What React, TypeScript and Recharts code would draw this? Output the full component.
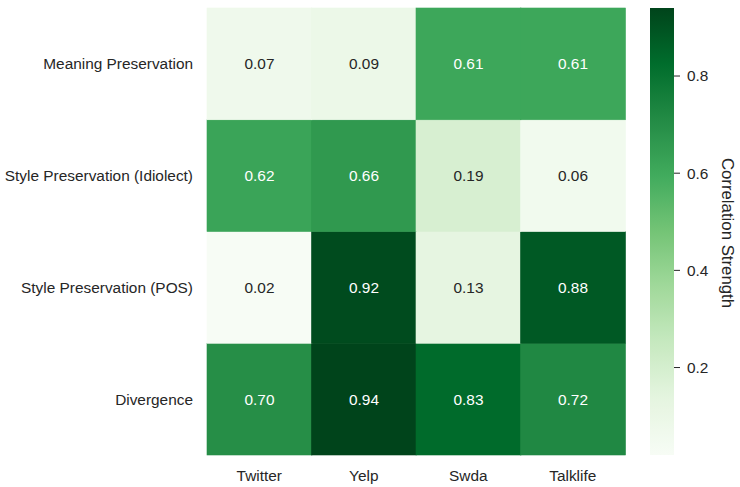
import { Bar, BarChart, Customized, XAxis, YAxis } from 'recharts';

const datasets = ['Twitter', 'Yelp', 'Swda', 'Talklife'];
const metrics = [
  'Meaning Preservation',
  'Style Preservation (Idiolect)',
  'Style Preservation (POS)',
  'Divergence',
];
const meaning = [0.07, 0.09, 0.61, 0.61];
const idiolect = [0.62, 0.66, 0.19, 0.06];
const pos = [0.02, 0.92, 0.13, 0.88];
const divergence = [0.7, 0.94, 0.83, 0.72];
const colorbarTicks = [0.2, 0.4, 0.6, 0.8];
const vmin = 0.02;
const vmax = 0.94;

// matplotlib "Greens"
const greensStops = ['#f7fcf5', '#e5f5e0', '#c7e9c0', '#a1d99b', '#74c476', '#41ab5d', '#238b45', '#006d2c', '#00441b'];

const hexToRgb = (h: string) => [1, 3, 5].map((i) => parseInt(h.slice(i, i + 2), 16));

const mix = (t: number) => {
  const c = Math.max(0, Math.min(1, t)) * (greensStops.length - 1);
  const i = Math.min(Math.floor(c), greensStops.length - 2);
  const f = c - i;
  const a = hexToRgb(greensStops[i]);
  const b = hexToRgb(greensStops[i + 1]);
  return a.map((v, k) => v + (b[k] - v) * f);
};

const greens = (t: number) => `rgb(${mix(t).map(Math.round).join(',')})`;

const luminance = (t: number) => {
  const lin = mix(t).map((v) => {
    const s = v / 255;
    return s <= 0.03928 ? s / 12.92 : Math.pow((s + 0.055) / 1.055, 2.4);
  });
  return 0.2126 * lin[0] + 0.7152 * lin[1] + 0.0722 * lin[2];
};

const rows = datasets.map((name, i) => ({
  name,
  meaning: meaning[i],
  idiolect: idiolect[i],
  pos: pos[i],
  divergence: divergence[i],
}));

const FONT = '"Liberation Sans", Arial, sans-serif';
const TEXT = '#262626';
const CB_X = 650;
const CB_W = 24;
const CB_TOP = 8;
const CB_H = 447;

const cellShape = (key: string) => (props: any) => {
  const { x, y, width, height, payload } = props;
  const v = payload[key];
  const t = (v - vmin) / (vmax - vmin);
  const fill = greens(t);
  return (
    <g>
      <rect x={x} y={y} width={width} height={height} fill={fill} stroke={fill} strokeWidth={0.6} />
      <text
        x={x + width / 2}
        y={y + height / 2}
        dy="0.355em"
        textAnchor="middle"
        fontSize={15.4}
        fontFamily={FONT}
        fill={luminance(t) > 0.408 ? TEXT : '#ffffff'}
      >
        {v.toFixed(2)}
      </text>
    </g>
  );
};

const ColorbarTick = (props: any) => {
  const { y, payload } = props;
  return (
    <g>
      <line x1={CB_X + CB_W} x2={CB_X + CB_W + 6} y1={y} y2={y} stroke={TEXT} strokeWidth={1} />
      <text x={CB_X + CB_W + 13} y={y} dy="0.355em" fontSize={15.4} fontFamily={FONT} fill={TEXT}>
        {payload.value}
      </text>
    </g>
  );
};

const Colorbar = () => {
  const n = 40;
  const stops = Array.from({ length: n + 1 }, (_, k) => k / n);
  const cy = 233;
  return (
    <g>
      <defs>
        <linearGradient id="cbGrad" x1="0" y1="1" x2="0" y2="0">
          {stops.map((s) => (
            <stop key={s} offset={s} stopColor={greens(s)} />
          ))}
        </linearGradient>
      </defs>
      <rect x={CB_X} y={CB_TOP} width={CB_W} height={CB_H} fill="url(#cbGrad)" />
      <text
        x={728}
        y={cy}
        transform={`rotate(90 728 ${cy})`}
        textAnchor="middle"
        dy="0.355em"
        fontSize={16.8}
        fontFamily={FONT}
        fill={TEXT}
      >
        Correlation Strength
      </text>
    </g>
  );
};

export default function App() {
  return (
    <div style={{ position: 'absolute', left: 0, top: 0, background: '#fff' }}>
      <BarChart
        width={740}
        height={487}
        data={rows}
        margin={{ top: 8, right: 0, bottom: 0, left: 0 }}
        barCategoryGap={0}
        barGap={0}
      >
        <XAxis
          dataKey="name"
          height={32}
          axisLine={false}
          tickLine={false}
          tickSize={0}
          tickMargin={15}
          tick={{ fontSize: 15.4, fontFamily: FONT, fill: TEXT }}
        />
        <YAxis
          type="number"
          domain={[0, 4]}
          ticks={[0.5, 1.5, 2.5, 3.5]}
          tickFormatter={(v: number) => metrics[3 - Math.floor(v)]}
          width={207}
          axisLine={false}
          tickLine={false}
          tickSize={0}
          tickMargin={14}
          tick={{ fontSize: 15.4, fontFamily: FONT, fill: TEXT }}
        />
        <YAxis
          yAxisId="cb"
          orientation="right"
          type="number"
          domain={[vmin, vmax]}
          allowDataOverflow
          ticks={colorbarTicks}
          width={115}
          axisLine={false}
          tickLine={false}
          tick={<ColorbarTick />}
        />
        <Bar dataKey={() => 1} stackId="a" isAnimationActive={false} shape={cellShape('divergence')} />
        <Bar dataKey={() => 1} stackId="a" isAnimationActive={false} shape={cellShape('pos')} />
        <Bar dataKey={() => 1} stackId="a" isAnimationActive={false} shape={cellShape('idiolect')} />
        <Bar dataKey={() => 1} stackId="a" isAnimationActive={false} shape={cellShape('meaning')} />
        <Customized component={Colorbar} />
      </BarChart>
    </div>
  );
}
